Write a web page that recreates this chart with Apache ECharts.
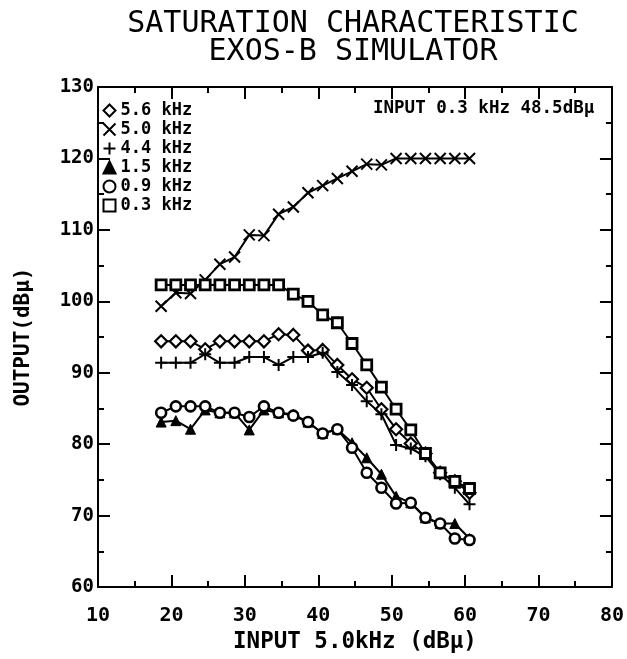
<!DOCTYPE html>
<html>
<head>
<meta charset="utf-8">
<script src="https://cdn.jsdelivr.net/npm/echarts@6/dist/echarts.min.js"></script>
<style>html,body{margin:0;padding:0;background:#fff}#c{width:627px;height:659px}</style>
</head>
<body>
<div id="c"></div>
<script>
const inputDb = [18.6, 20.6, 22.6, 24.6, 26.6, 28.6, 30.6, 32.6, 34.6, 36.6, 38.6, 40.6, 42.6, 44.6, 46.6, 48.6, 50.6, 52.6, 54.6, 56.6, 58.6, 60.6];
const out56 = [94.4, 94.4, 94.4, 93.3, 94.4, 94.4, 94.4, 94.4, 95.4, 95.3, 93.1, 93.2, 91.1, 89.1, 87.9, 84.9, 82.1, 80.1, 78.7, 76.0, 74.8, 73.2];
const out50 = [99.3, 101.2, 101.1, 103.0, 105.2, 106.2, 109.3, 109.2, 112.2, 113.2, 115.2, 116.2, 117.2, 118.2, 119.2, 119.1, 120.0, 120.0, 120.0, 120.0, 120.0, 120.0];
const out44 = [91.4, 91.4, 91.4, 92.6, 91.4, 91.4, 92.2, 92.2, 91.1, 92.2, 92.2, 92.8, 90.1, 88.3, 86.0, 84.2, 79.9, 79.4, 78.3, 75.8, 73.9, 71.6];
const out15 = [83.1, 83.3, 82.1, 84.8, 84.4, 84.4, 82.0, 84.8, 84.4, 84.2, 83.1, 81.5, 82.1, 80.2, 78.1, 75.8, 72.7, 71.8, 69.7, 68.9, 68.9, 66.8];
const out09 = [84.4, 85.3, 85.3, 85.3, 84.4, 84.4, 83.8, 85.3, 84.4, 84.0, 83.1, 81.5, 82.1, 79.5, 76.0, 73.9, 71.7, 71.8, 69.7, 68.9, 66.8, 66.6];
const out03 = [102.3, 102.3, 102.3, 102.3, 102.3, 102.3, 102.3, 102.3, 102.3, 101.0, 100.0, 98.1, 97.0, 94.1, 91.1, 88.0, 84.9, 82.0, 78.7, 76.0, 74.8, 73.8];
const seriesNames = ['5.6 kHz', '5.0 kHz', '4.4 kHz', '1.5 kHz', '0.9 kHz', '0.3 kHz'];
const xTicks = [10, 20, 30, 40, 50, 60, 70, 80];
const yTicks = [60, 70, 80, 90, 100, 110, 120, 130];

const FONT = '"DejaVu Sans Mono", monospace';
const pair = (ys) => inputDb.map((x, i) => [x, ys[i]]);

const X_PATH = 'path://M0,0L10,10M0,10L10,0';
const PLUS_PATH = 'path://M5,0L5,10M0,5L10,5';

const styles = [
  {symbol: 'diamond', size: 12, item: {color: '#fff', borderColor: '#000', borderWidth: 2.2}},
  {symbol: X_PATH, size: 11, item: {color: 'none', borderColor: '#000', borderWidth: 2}},
  {symbol: PLUS_PATH, size: 12, item: {color: 'none', borderColor: '#000', borderWidth: 2}},
  {symbol: 'triangle', size: 10, item: {color: '#000', borderColor: '#000', borderWidth: 1}},
  {symbol: 'circle', size: 10, item: {color: '#fff', borderColor: '#000', borderWidth: 2.6}},
  {symbol: 'rect', size: 10, item: {color: '#fff', borderColor: '#000', borderWidth: 2.8}}
];
const datasets = [out56, out50, out44, out15, out09, out03];

const chart = echarts.init(document.getElementById('c'), null, {renderer: 'canvas'});

const axisCommon = {
  axisLine: {show: true, lineStyle: {color: '#000', width: 2}},
  axisTick: {show: true, inside: true, length: 12, lineStyle: {color: '#000', width: 2}},
  minorTick: {show: true, splitNumber: 2, length: 6, lineStyle: {color: '#000', width: 2}},
  splitLine: {show: false}
};

chart.setOption({
  animation: false,
  backgroundColor: '#fff',
  title: {
    text: 'SATURATION CHARACTERISTIC\nEXOS-B SIMULATOR',
    left: 348, top: 5, textAlign: 'center',
    textStyle: {fontFamily: FONT, fontSize: 30, fontWeight: 'normal', color: '#000', lineHeight: 28}
  },
  grid: {left: 98, right: 15, top: 87, bottom: 71},
  legend: {
    orient: 'vertical', left: 101, top: 102, padding: 0, itemGap: 2, itemWidth: 12, itemHeight: 12,
    textStyle: {fontFamily: FONT, fontSize: 17, fontWeight: 'bold', color: '#000'},
    data: seriesNames.map((n, i) => ({name: n, icon: styles[i].symbol}))
  },
  graphic: [{
    type: 'text', left: 373, top: 99,
    style: {text: 'INPUT 0.3 kHz 48.5dBμ', font: 'bold 17.5px ' + FONT, fill: '#000'}
  }],
  xAxis: [
    Object.assign({}, axisCommon, {
      type: 'value', min: xTicks[0], max: xTicks[xTicks.length - 1], interval: 10, position: 'bottom',
      name: 'INPUT 5.0kHz (dBμ)', nameLocation: 'middle', nameGap: 43,
      nameTextStyle: {fontFamily: FONT, fontSize: 22.5, fontWeight: 'bold', color: '#000'},
      axisLabel: {fontFamily: FONT, fontSize: 20, fontWeight: 'bold', color: '#000', margin: 19}
    }),
    Object.assign({}, axisCommon, {
      type: 'value', min: xTicks[0], max: xTicks[xTicks.length - 1], interval: 10, position: 'top',
      axisLabel: {show: false}
    })
  ],
  yAxis: [
    Object.assign({}, axisCommon, {
      type: 'value', min: yTicks[0], max: yTicks[yTicks.length - 1], interval: 10, position: 'left',
      name: 'OUTPUT(dBμ)', nameLocation: 'middle', nameGap: 64, nameRotate: 90,
      nameTextStyle: {fontFamily: FONT, fontSize: 21, fontWeight: 'bold', color: '#000'},
      axisLabel: {fontFamily: FONT, fontSize: 19, fontWeight: 'bold', color: '#000', margin: 4}
    }),
    Object.assign({}, axisCommon, {
      type: 'value', min: yTicks[0], max: yTicks[yTicks.length - 1], interval: 10, position: 'right',
      axisLabel: {show: false}
    })
  ],
  series: datasets.map((d, i) => ({
    name: seriesNames[i],
    type: 'line',
    xAxisIndex: 0, yAxisIndex: 0,
    data: pair(d),
    symbol: styles[i].symbol,
    symbolSize: styles[i].size,
    showAllSymbol: true,
    lineStyle: {color: '#000', width: 2},
    itemStyle: styles[i].item,
    z: 2 + i
  }))
});
</script>
</body>
</html>
